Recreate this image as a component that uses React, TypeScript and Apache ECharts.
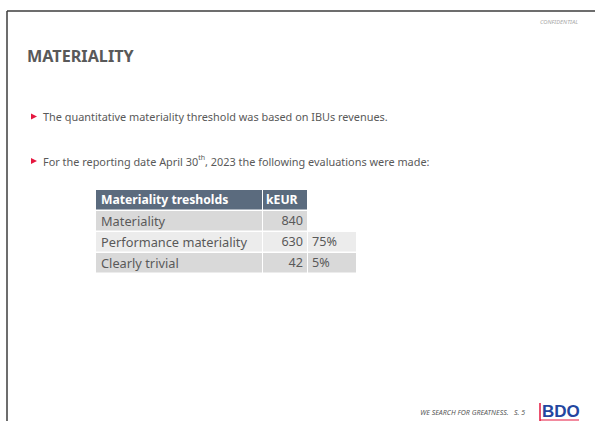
import React, { useEffect, useRef } from "react";
import * as echarts from "echarts";

const title = "MATERIALITY";
const bullets = [
  "The quantitative materiality threshold was based on IBUs revenues.",
  "{a|For the reporting date April 30}{s|th}{a|, 2023 the following evaluations were made:}",
];
const headers = ["Materiality tresholds", "kEUR"];
const rowLabels = ["Materiality", "Performance materiality", "Clearly trivial"];
const rowValues = [840, 630, 42];
const rowShares = ["", "75%", "5%"];
const footerText = "WE SEARCH FOR GREATNESS.   S. 5";

const FONT = "'Noto Sans', sans-serif";
const TEXT = "#595959";
const RED = "#e5173f";

export default function App() {
  const ref = useRef<HTMLDivElement>(null);
  useEffect(() => {
    if (!ref.current) return;
    const chart = echarts.init(ref.current, undefined, { renderer: "svg" });
    const g: any[] = [];

    // slide frame
    g.push({ type: "line", shape: { x1: 7, y1: 11, x2: 595, y2: 11 }, style: { stroke: "#3c3c3c", lineWidth: 1.5 } });
    g.push({ type: "line", shape: { x1: 7, y1: 11, x2: 7, y2: 421 }, style: { stroke: "#3c3c3c", lineWidth: 1.5 } });

    g.push({
      type: "text", x: 578, y: 22,
      style: { text: "CONFIDENTIAL", fill: "#a8a8a8", fontSize: 5.8, fontStyle: "italic", fontFamily: FONT, textAlign: "right", textVerticalAlign: "middle" },
    });

    g.push({
      type: "text", x: 27, y: 56,
      style: { text: title, fill: TEXT, fontSize: 16.2, fontWeight: "bold", fontFamily: FONT, textAlign: "left", textVerticalAlign: "middle" },
    });

    const bulletY = [116.5, 161];
    bullets.forEach((b, i) => {
      const y = bulletY[i];
      g.push({ type: "polygon", shape: { points: [[31, y - 3], [37, y], [31, y + 3]] }, style: { fill: RED } });
      if (i === 0) {
        g.push({
          type: "text", x: 43, y,
          style: { text: b, fill: TEXT, fontSize: 10.9, fontFamily: FONT, textAlign: "left", textVerticalAlign: "middle" },
        });
      } else {
        g.push({
          type: "text", x: 43, y,
          style: {
            text: b, textAlign: "left", textVerticalAlign: "middle",
            rich: {
              a: { fill: TEXT, fontSize: 10.9, fontFamily: FONT, lineHeight: 15 },
              s: { fill: TEXT, fontSize: 7, fontFamily: FONT, lineHeight: 15, verticalAlign: "top" },
            },
          },
        });
      }
    });

    // table
    const colX = [96, 263, 308];
    const colW = [166, 44, 48];
    const rowY = [190, 211, 232, 253];
    const rowH = 19.5;
    const HEAD = "#5b6b7e";
    const DARK = "#d9d9d9";
    const LIGHT = "#ececec";

    g.push({ type: "rect", shape: { x: colX[0], y: rowY[0], width: colW[0], height: rowH }, style: { fill: HEAD } });
    g.push({ type: "rect", shape: { x: colX[1], y: rowY[0], width: colW[1], height: rowH }, style: { fill: HEAD } });
    g.push({
      type: "text", x: 101, y: rowY[0] + rowH / 2,
      style: { text: headers[0], fill: "#ffffff", fontSize: 12.2, fontWeight: "bold", fontFamily: FONT, textAlign: "left", textVerticalAlign: "middle" },
    });
    g.push({
      type: "text", x: 266, y: rowY[0] + rowH / 2,
      style: { text: headers[1], fill: "#ffffff", fontSize: 12.2, fontWeight: "bold", fontFamily: FONT, textAlign: "left", textVerticalAlign: "middle" },
    });

    rowLabels.forEach((lab, i) => {
      const y = rowY[i + 1];
      const bg = i === 1 ? LIGHT : DARK;
      g.push({ type: "rect", shape: { x: colX[0], y, width: colW[0], height: rowH }, style: { fill: bg } });
      g.push({ type: "rect", shape: { x: colX[1], y, width: colW[1], height: rowH }, style: { fill: bg } });
      if (rowShares[i]) {
        g.push({ type: "rect", shape: { x: colX[2], y, width: colW[2], height: rowH }, style: { fill: bg } });
        g.push({
          type: "text", x: 312, y: y + rowH / 2,
          style: { text: rowShares[i], fill: TEXT, fontSize: 12.6, fontFamily: FONT, textAlign: "left", textVerticalAlign: "middle" },
        });
      }
      g.push({
        type: "text", x: 101, y: y + rowH / 2,
        style: { text: lab, fill: TEXT, fontSize: 12.8, fontFamily: FONT, textAlign: "left", textVerticalAlign: "middle" },
      });
      g.push({
        type: "text", x: 303, y: y + rowH / 2,
        style: { text: String(rowValues[i]), fill: TEXT, fontSize: 12.6, fontFamily: FONT, textAlign: "right", textVerticalAlign: "middle" },
      });
    });

    // footer
    g.push({
      type: "text", x: 525, y: 412.5,
      style: { text: footerText, fill: "#595959", fontSize: 7, fontStyle: "italic", fontFamily: FONT, textAlign: "right", textVerticalAlign: "middle" },
    });
    g.push({ type: "line", shape: { x1: 540, y1: 403, x2: 540, y2: 421 }, style: { stroke: RED, lineWidth: 1.5 } });
    g.push({ type: "line", shape: { x1: 540, y1: 420, x2: 579, y2: 420 }, style: { stroke: RED, lineWidth: 1 } });
    g.push({
      type: "text", x: 542, y: 411,
      style: { text: "BDO", fill: "#2346a0", fontSize: 17, fontWeight: "bold", fontFamily: "'Liberation Sans', sans-serif", textAlign: "left", textVerticalAlign: "middle" },
    });

    chart.setOption({ animation: false, backgroundColor: "#ffffff", graphic: { elements: g } });
    return () => chart.dispose();
  }, []);
  return <div ref={ref} style={{ position: "fixed", left: 0, top: 0, width: 595, height: 421 }} />;
}
